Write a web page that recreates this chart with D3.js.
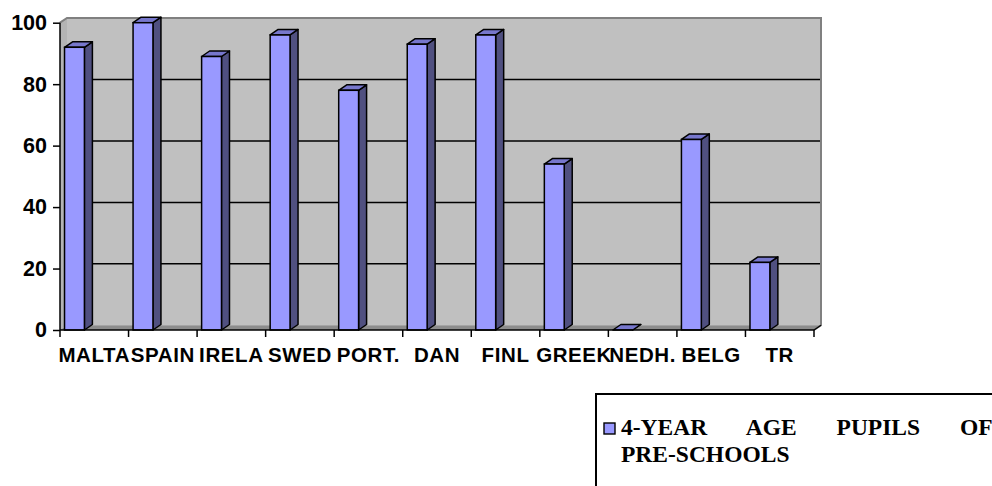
<!DOCTYPE html>
<html>
<head>
<meta charset="utf-8">
<script src="https://cdn.jsdelivr.net/npm/d3@7"></script>
<style>
  html, body { margin: 0; padding: 0; background: #ffffff; }
  svg { display: block; }
</style>
</head>
<body>
<svg id="chart" width="992" height="486"></svg>
<script>
// ---- data ----
const categories = ["MALTA", "SPAIN", "IRELA", "SWED", "PORT.", "DAN", "FINL", "GREEK", "NEDH.", "BELG", "TR"];
const values = [92, 100, 89, 96, 78, 93, 96, 54, 0, 62, 22];
const yTicks = [0, 20, 40, 60, 80, 100];
const seriesName = ["4-YEAR AGE PUPILS OF", "PRE-SCHOOLS"];

(function () {
// ---- layout ----
const svg = d3.select("#chart");
const pLeft = 60, pRight = 814, pBottom = 330, pTop = 22.7;
const wallDx = 7, wallDy = -4.7;     // depth of back wall
const barDx = 8, barDy = -5.5;       // depth of bars

const x = d3.scaleBand().domain(categories).range([pLeft, pRight]).padding(0);
const y = d3.scaleLinear().domain([0, 100]).range([pBottom, pTop]);
const pts = a => a.map(p => p.join(",")).join(" ");

// side wall (left)
svg.append("polygon")
  .attr("points", pts([[pLeft, y(100)], [pLeft + wallDx, y(100) + wallDy], [pLeft + wallDx, y(0) + wallDy], [pLeft, y(0)]]))
  .attr("fill", "#b4b4b4");

// back wall
svg.append("rect")
  .attr("x", pLeft + wallDx).attr("y", y(100) + wallDy)
  .attr("width", pRight - pLeft).attr("height", y(0) - y(100))
  .attr("fill", "#c0c0c0");

// floor
svg.append("polygon")
  .attr("points", pts([[pLeft, y(0)], [pLeft + wallDx, y(0) + wallDy], [pRight + wallDx, y(0) + wallDy], [pRight, y(0)]]))
  .attr("fill", "#8c8c8c");

// gridlines on back wall
svg.append("g").selectAll("line")
  .data(yTicks.filter(t => t > 0 && t < 100))
  .join("line")
  .attr("x1", pLeft + wallDx).attr("x2", pRight + wallDx)
  .attr("y1", d => y(d) + wallDy).attr("y2", d => y(d) + wallDy)
  .attr("stroke", "#000").attr("stroke-width", 1.5);

// wall border (top and right)
svg.append("polyline")
  .attr("points", pts([[pLeft, y(100)], [pLeft + wallDx, y(100) + wallDy], [pRight + wallDx, y(100) + wallDy], [pRight + wallDx, y(0) + wallDy], [pRight, y(0)]]))
  .attr("fill", "none").attr("stroke", "#808080").attr("stroke-width", 2);

// bars
const bw = x.bandwidth();
const bars = svg.append("g").selectAll("g")
  .data(categories.map((c, i) => ({ c, v: values[i] })))
  .join("g");

const x0 = d => x(d.c) + bw * 0.066;
const wF = bw * 0.29;

// side face
bars.append("polygon")
  .attr("points", d => {
    const a = x0(d) + wF, t = y(d.v), b = y(0);
    return pts([[a, t], [a + barDx, t + barDy], [a + barDx, b + barDy], [a, b]]);
  })
  .attr("fill", "#505080").attr("stroke", "#000").attr("stroke-width", 1.5).attr("stroke-linejoin", "round");

// top face
bars.append("polygon")
  .attr("points", d => {
    const a = x0(d), t = y(d.v);
    return pts([[a, t], [a + barDx, t + barDy], [a + wF + barDx, t + barDy], [a + wF, t]]);
  })
  .attr("fill", "#7777cc").attr("stroke", "#000").attr("stroke-width", 1.5).attr("stroke-linejoin", "round");

// front face
bars.append("rect")
  .attr("x", d => x0(d)).attr("y", d => y(d.v))
  .attr("width", wF).attr("height", d => y(0) - y(d.v))
  .attr("fill", "#9999ff").attr("stroke", "#000").attr("stroke-width", 1.5);

// y axis
const yAxis = svg.append("g").attr("transform", `translate(${pLeft},0)`)
  .call(d3.axisLeft(y).tickValues(yTicks).tickSize(7).tickPadding(6).tickFormat(d3.format("d")));
yAxis.select(".domain").attr("stroke", "#000").attr("stroke-width", 1.5).attr("d", `M0,${y(100)}V${y(0)}`);
yAxis.selectAll(".tick line").attr("stroke", "#000").attr("stroke-width", 1.5);
yAxis.selectAll(".tick text")
  .attr("font-family", "Liberation Sans, Arial, sans-serif")
  .attr("font-weight", "bold").attr("font-size", 21.5).attr("fill", "#000");

// x axis
const xAxis = svg.append("g").attr("transform", `translate(0,${pBottom})`);
xAxis.append("line").attr("x1", pLeft).attr("x2", pRight).attr("y1", 0).attr("y2", 0)
  .attr("stroke", "#000").attr("stroke-width", 1.5);
xAxis.selectAll("line.tk")
  .data(categories.map(c => x(c)).concat([pRight]))
  .join("line").attr("class", "tk")
  .attr("x1", d => d).attr("x2", d => d).attr("y1", 0).attr("y2", 7)
  .attr("stroke", "#000").attr("stroke-width", 1.5);
xAxis.append("line").attr("x1", pRight).attr("x2", pRight + wallDx).attr("y1", 0).attr("y2", wallDy)
  .attr("stroke", "#000").attr("stroke-width", 1.2);
xAxis.selectAll("text.xl")
  .data(categories)
  .join("text").attr("class", "xl")
  .attr("x", d => x(d) + bw / 2).attr("y", 32)
  .attr("text-anchor", "middle")
  .attr("font-family", "Liberation Sans, Arial, sans-serif")
  .attr("font-weight", "bold").attr("font-size", 20.5)
  .attr("letter-spacing", 0.6)
  .text(d => d);

// legend
const lg = svg.append("g");
lg.append("rect").attr("x", 596).attr("y", 394).attr("width", 500).attr("height", 120)
  .attr("fill", "#fff").attr("stroke", "#000").attr("stroke-width", 2);
lg.append("rect").attr("x", 604).attr("y", 423).attr("width", 11).attr("height", 11)
  .attr("fill", "#9999ff").attr("stroke", "#000").attr("stroke-width", 1.4);
lg.selectAll("text.lt")
  .data(seriesName)
  .join("text").attr("class", "lt")
  .attr("x", 621).attr("y", (d, i) => 435 + i * 27)
  .attr("font-family", "Liberation Serif, Times New Roman, serif")
  .attr("font-weight", "bold").attr("font-size", 23.5)
  .attr("word-spacing", (d, i) => i === 0 ? 34 : 0)
  .text(d => d);
})();
</script>
</body>
</html>
